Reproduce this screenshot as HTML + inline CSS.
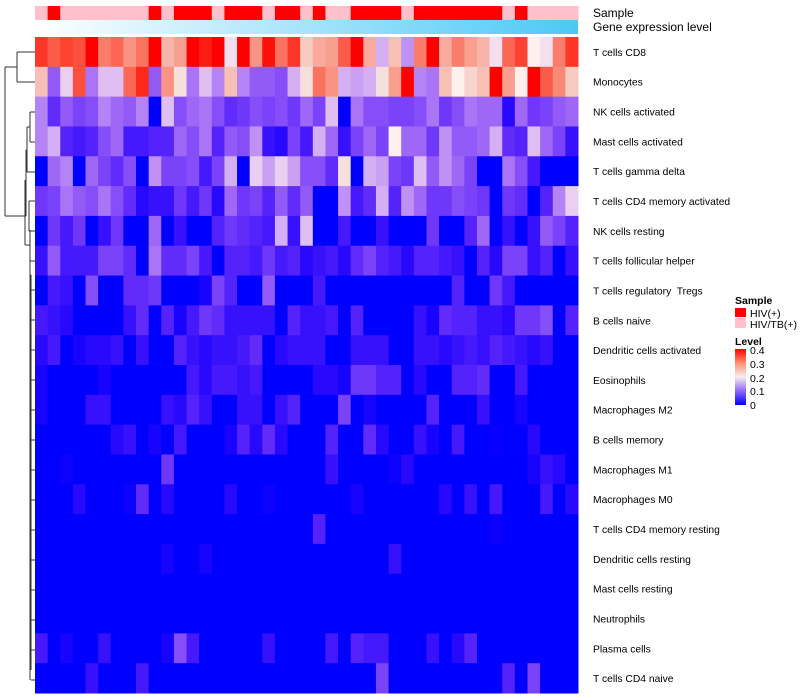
<!DOCTYPE html>
<html><head><meta charset="utf-8"><style>
body{margin:0;background:#fff;}
svg{display:block;font-family:"Liberation Sans",sans-serif;}
#rowlabels text{white-space:pre;}
</style></head><body>
<svg id="chart" width="800" height="700" viewBox="0 0 800 700" xmlns="http://www.w3.org/2000/svg">
<defs>
<linearGradient id="gexp" x1="0" x2="1" y1="0" y2="0"><stop offset="0" stop-color="#ffffff"/><stop offset="1" stop-color="#4cc8f6"/></linearGradient>
<linearGradient id="lvl" x1="0" x2="0" y1="1" y2="0"><stop offset="0" stop-color="#0000ff"/><stop offset="0.25" stop-color="#9068f8"/><stop offset="0.5" stop-color="#f4eeee"/><stop offset="0.75" stop-color="#ff9070"/><stop offset="1" stop-color="#ff0000"/></linearGradient>
</defs>
<g id="ann"></g>
<rect x="35" y="20" width="543" height="14" fill="url(#gexp)"/>
<text x="593" y="17" font-size="12">Sample</text>
<text x="593" y="31" font-size="12">Gene expression level</text>
<g id="cells"></g>
<g id="rowlabels" font-size="10.3"></g>
<g stroke="#333" stroke-width="1" fill="none">
<path d="M17 52H35M17 82H35M17 52V82M5 67H17M5 67V216M5 216H25"/>
<path d="M30 112H35M30 142H35M30 112V142M27 127H30M27 172H35M27 127V172M26 150H27M29 201H35M29 231H35M29 201V231M26 150V216M25 216H26M25 180V245M25 245H30"/>
<path d="M30 261H35M30 230V680M31 290H35M31 320H35M31 350H35M31 380H35M31 410H35M31 440H35M31 470H35M31 500H35M31 530H35M31 560H35M31 590H35M31 620H35M31 650H35M31 680H35M31 275V670M30 275H31"/>
</g>
<g font-size="10.5">
<text x="735" y="304" font-weight="bold">Sample</text>
<rect x="735" y="308" width="11" height="9" fill="#ff0000"/>
<text x="750" y="317">HIV(+)</text>
<rect x="735" y="318" width="11" height="10" fill="#ffc0cb"/>
<text x="750" y="328">HIV/TB(+)</text>
<text x="735" y="345" font-weight="bold">Level</text>
<rect x="735" y="349" width="11" height="56" fill="url(#lvl)"/>
<text x="750" y="354">0.4</text>
<text x="750" y="368">0.3</text>
<text x="750" y="382">0.2</text>
<text x="750" y="395">0.1</text>
<text x="750" y="409">0</text>
</g>
</svg>
<script>
const rowNames=["T cells CD8","Monocytes","NK cells activated","Mast cells activated","T cells gamma delta","T cells CD4 memory activated","NK cells resting","T cells follicular helper","T cells regulatory  Tregs","B cells naive","Dendritic cells activated","Eosinophils","Macrophages M2","B cells memory","Macrophages M1","Macrophages M0","T cells CD4 memory resting","Dendritic cells resting","Mast cells resting","Neutrophils","Plasma cells","T cells CD4 naive"];
const sampleGroups=[0,1,0,0,0,0,0,0,0,1,0,1,1,1,0,1,1,1,0,1,1,0,1,0,0,1,1,1,1,0,1,1,1,1,1,1,1,0,1,0,0,0,0];
const r0=[.36,.33,.35,.34,.4,.3,.32,.28,.31,.4,.25,.27,.4,.38,.4,.19,.4,.28,.39,.31,.36,.23,.26,.27,.33,.4,.26,.16,.24,.14,.3,.4,.26,.3,.27,.25,.19,.32,.35,.2,.19,.3,.36];
const r1=[.24,.1,.18,.34,.12,.17,.17,.32,.37,.1,.28,.21,.12,.17,.13,.24,.13,.1,.1,.09,.16,.21,.31,.28,.16,.15,.16,.21,.27,.4,.13,.12,.24,.2,.22,.24,.4,.27,.2,.4,.33,.29,.23];
const r2=[.13,.06,.1,.08,.09,.13,.11,.1,.13,0,.17,.09,.11,.12,.09,.06,.07,.09,.08,.09,.07,.11,.08,.17,0,.12,.09,.09,.08,.08,.09,.12,.07,.09,.12,.11,.11,.02,.11,.07,.08,.1,.11];
const r3=[.13,.16,.05,.04,.05,.09,.11,.04,.04,.05,.05,.11,.09,.12,.05,.1,.09,.14,.03,.02,.08,.04,.16,.11,.03,.08,.11,.08,.2,.11,.11,.07,.14,.1,.1,.11,.16,.06,.05,.17,.11,.08,.03];
const r4=[0,.11,.13,0,.11,.08,.06,.09,0,.14,.08,.08,.09,.04,.08,.16,0,.18,.15,.18,.15,.09,.09,.06,.21,0,.16,.15,.08,.07,.17,.1,.14,.11,.08,0,0,.12,.09,.04,0,0,0];
const r5=[.07,.08,.12,.1,.09,.12,.09,.06,.02,.03,.03,.07,.04,.07,.02,.11,.07,.08,.05,.1,.06,.1,0,0,.14,.04,.06,.16,.05,.14,.11,.07,.07,.09,.08,.07,0,.07,.06,0,.05,.13,.18];
const r6=[0,.07,.04,.07,0,.03,.07,0,0,.11,0,.03,0,0,.05,.07,.06,.05,.04,.16,.03,.17,0,0,.04,0,0,.03,0,0,0,.07,0,0,.05,.11,0,.03,0,.03,.1,.08,.05];
const r7=[.03,.1,.04,.04,.04,.08,.08,.06,0,.12,.06,.06,.08,.04,0,.05,.05,.04,.07,.04,.05,.02,.03,.04,.02,.06,.08,.05,.04,.02,.05,.05,.04,.03,0,.05,.02,.08,.08,.03,.05,0,.03];
const r8=[0,.04,.03,0,.09,0,0,.06,.06,.07,0,0,0,.01,.08,.05,0,0,.1,0,0,0,.04,0,0,0,0,0,0,0,0,0,0,.05,0,0,.07,.04,0,0,0,0,0];
const r9=[.04,.03,.02,0,0,0,0,.03,.06,0,.05,.01,.04,.07,.06,.03,.03,.03,.03,0,.05,.03,.03,.04,0,.05,0,0,0,0,.03,.01,.06,.05,.05,.03,.03,.02,.07,.07,.09,0,.05];
const r10=[.02,.04,0,.01,.02,.02,.03,0,.03,0,0,.05,.03,.02,.03,.03,.04,.06,0,.02,.03,.03,.03,0,0,.03,.03,.03,0,0,.03,.03,.02,.03,.04,.03,.05,.04,.03,.02,.03,0,0];
const r11=[.01,0,0,0,0,.01,0,0,0,0,0,0,.04,.02,.04,.04,.03,.04,0,0,0,0,.02,.02,.01,.07,.07,.05,.05,0,.02,0,0,.05,.05,.06,0,0,.04,0,0,0,0];
const r12=[.01,0,0,0,.03,.03,0,0,0,0,.03,.02,.05,.03,0,0,.03,.03,0,.03,.05,0,0,0,.08,0,.01,0,0,0,0,.05,0,0,0,.03,0,0,.01,0,0,0,0];
const r13=[0,0,0,0,0,0,.02,.03,0,.01,0,.04,0,0,0,.01,.05,.02,.06,.02,0,0,0,.05,0,0,.06,.02,0,0,.03,.01,0,.04,0,0,.003,0,0,.02,0,0,0];
const r14=[0,0,.005,0,0,0,0,0,0,0,.07,0,0,0,0,0,0,0,0,0,0,0,0,.03,0,0,0,0,.005,.02,0,0,0,0,0,0,0,0,0,.01,.03,.02,0];
const r15=[0,0,0,.02,0,0,0,.005,.06,0,.02,0,0,0,0,.02,0,0,.005,0,0,0,0,0,0,.01,0,0,0,0,0,0,.02,0,.03,0,.04,0,0,0,.04,0,.02];
const r16=[0,0,0,0,0,0,0,0,0,0,0,0,0,0,0,0,0,0,0,0,0,0,.05,0,0,0,0,0,0,0,0,0,0,0,0,0,.005,0,0,0,0,0,0];
const r17=[0,0,0,0,0,0,0,0,0,0,.01,0,0,.01,0,0,0,0,0,0,0,0,0,0,0,0,0,0,.03,0,0,0,0,0,0,0,0,0,0,0,0,0,0];
const r18=[0,0,0,0,0,0,0,0,0,0,0,0,0,0,0,0,0,0,0,0,0,0,0,0,0,0,0,0,0,0,0,0,0,0,0,0,0,0,0,0,0,0,0];
const r19=[0,0,0,0,0,0,0,0,0,0,0,0,0,0,0,0,0,0,0,0,0,0,0,0,0,0,0,0,0,0,0,0,0,0,0,0,0,0,0,0,0,0,0];
const r20=[.04,0,.01,0,0,.03,0,0,0,0,.01,.09,.04,0,0,0,0,0,.03,0,0,0,0,.04,0,.05,.04,.04,0,0,0,.03,0,.02,.05,0,0,0,0,0,0,0,0];
const r21=[0,0,0,0,.03,0,0,0,.04,0,0,0,0,0,0,0,0,0,0,0,0,0,0,0,0,0,0,.08,0,0,0,0,0,0,0,0,0,.05,0,.08,0,0,0];
const values=[r0,r1,r2,r3,r4,r5,r6,r7,r8,r9,r10,r11,r12,r13,r14,r15,r16,r17,r18,r19,r20,r21];

const NS="http://www.w3.org/2000/svg";
const X0=35,X1=578,Y0=37,Y1=693;
const nCol=sampleGroups.length,nRow=rowNames.length;
const cw=(X1-X0)/nCol,rh=(Y1-Y0)/nRow;
const xPos=i=>X0+i*cw, yPos=j=>Y0+j*rh;
function color(v){
  v=Math.max(0,Math.min(0.4,v));
  let r,g,b;
  if(v<=0.2){const t=v/0.2;r=255*Math.pow(t,0.8);g=240*Math.pow(t,1.4);b=255-15*t;}
  else{const t=(v-0.2)/0.2;r=245+10*t;g=235*Math.pow(1-t,0.9);b=232*Math.pow(1-t,1.1);}
  return `rgb(${r|0},${g|0},${b|0})`;
}
const ann=document.getElementById('ann');
sampleGroups.forEach((s,i)=>{
  const el=document.createElementNS(NS,'rect');
  el.setAttribute('x',xPos(i));el.setAttribute('y',6);
  el.setAttribute('width',cw+0.5);el.setAttribute('height',14);
  el.setAttribute('fill',s?'#ff0000':'#ffc0cb');
  
  
  ann.appendChild(el);
});
const cells=document.getElementById('cells');
values.forEach((row,j)=>{
  row.forEach((v,i)=>{
    const el=document.createElementNS(NS,'rect');
    el.setAttribute('x',xPos(i));el.setAttribute('y',yPos(j));
    el.setAttribute('width',cw+0.5);el.setAttribute('height',rh+0.5);
    el.setAttribute('fill',color(v));
    
    
    cells.appendChild(el);
  });
});
const rl=document.getElementById('rowlabels');
rowNames.forEach((n,j)=>{
  const t=document.createElementNS(NS,'text');
  t.setAttribute('x',593);t.setAttribute('y',yPos(j)+rh/2+4);
  t.textContent=n;
  
  
  rl.appendChild(t);
});
</script>
</body></html>
